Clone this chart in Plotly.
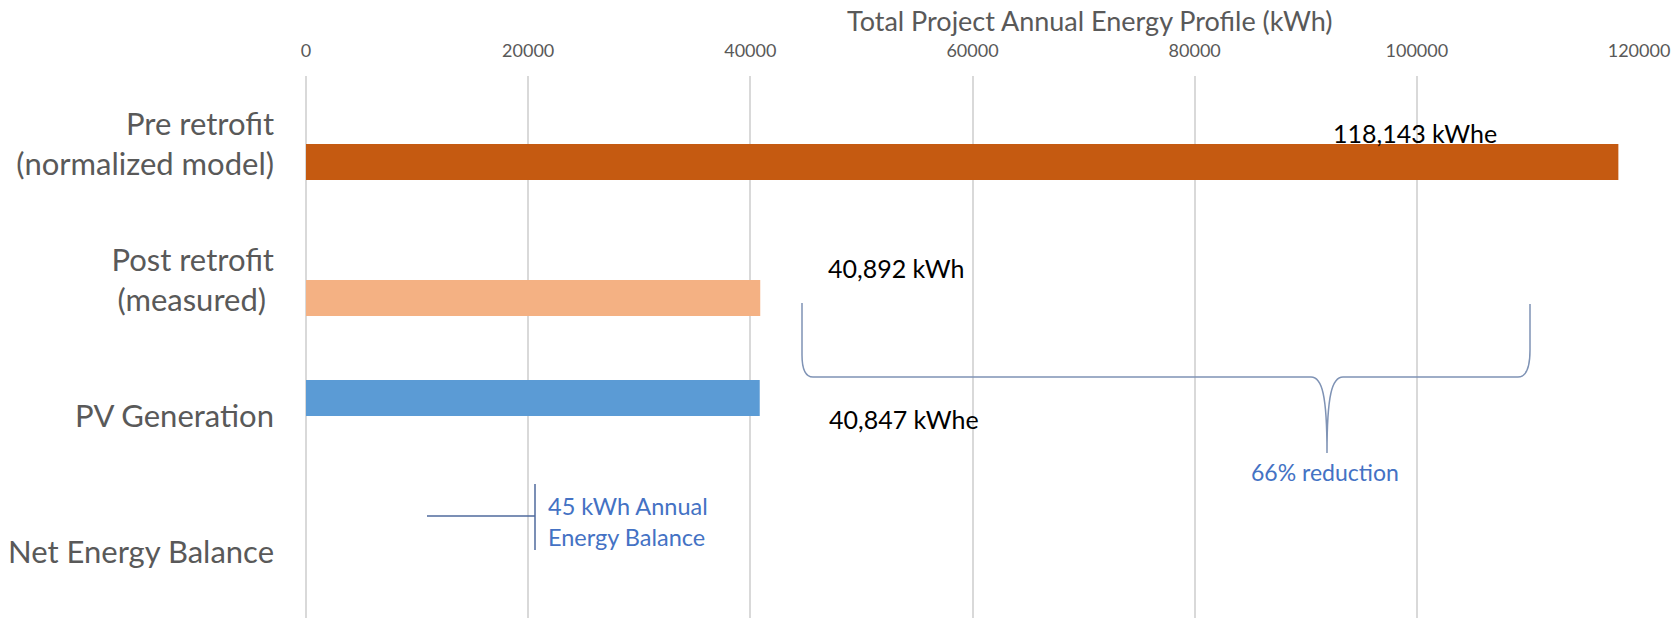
import plotly.graph_objects as go

# ---- data ----
categories = ["Pre retrofit<br>(normalized model)", "Post retrofit<br>(measured) ",
              "PV Generation", "Net Energy Balance"]
consumption = [118143, 40892, None, None]
generation = [None, None, 40847, None]
net_balance = 45
reduction_pct = 66
x_ticks = [0, 20000, 40000, 60000, 80000, 100000, 120000]

consumption_colors = ["#C55A11", "#F4B183", "#C55A11", "#C55A11"]
pv_color = "#5B9BD5"
FONT = "Lato"

W, H = 1679, 618
L, R, T, B = 306, 40, 76, 0
XMAX = 120000


def px2x(px):
    return (px - L) / (W - L - R) * XMAX


def py2p(py):
    return 1 - (py - T) / (H - T - B)


fig = go.Figure()
bw = 0.265
fig.add_trace(go.Bar(y=categories, x=consumption, orientation="h",
                     marker=dict(color=consumption_colors, line=dict(width=0)),
                     width=bw, offset=0.0, showlegend=False, hoverinfo="x+y"))
fig.add_trace(go.Bar(y=categories, x=generation, orientation="h",
                     marker=dict(color=pv_color, line=dict(width=0)),
                     width=bw, offset=-bw, showlegend=False, hoverinfo="x+y"))

ann = []
# axis title (top)
ann.append(dict(text="Total Project Annual Energy Profile (kWh)", xref="paper", yref="paper",
                x=(1090 - L) / (W - L - R), y=py2p(20), xanchor="center", yanchor="middle",
                showarrow=False, font=dict(family=FONT, size=27, color="#595959")))
# data labels
ann.append(dict(text=f"{consumption[0]:,} kWhe", xref="x", yref="paper", x=px2x(1331), y=py2p(133),
                xanchor="left", yanchor="middle", showarrow=False,
                font=dict(family=FONT, size=25, color="#000000")))
ann.append(dict(text=f"{consumption[1]:,} kWh", xref="x", yref="paper", x=px2x(826), y=py2p(268),
                xanchor="left", yanchor="middle", showarrow=False,
                font=dict(family=FONT, size=25, color="#000000")))
ann.append(dict(text=f"{generation[2]:,} kWhe", xref="x", yref="paper", x=px2x(827), y=py2p(419),
                xanchor="left", yanchor="middle", showarrow=False,
                font=dict(family=FONT, size=25, color="#000000")))
# blue notes
ann.append(dict(text=f"{reduction_pct}% reduction", xref="x", yref="paper", x=px2x(1325), y=py2p(472),
                xanchor="center", yanchor="middle", showarrow=False,
                font=dict(family=FONT, size=23, color="#4472C4")))
ann.append(dict(text=f"{net_balance} kWh Annual<br>Energy Balance", xref="x", yref="paper",
                x=px2x(546), y=py2p(521), xanchor="left", yanchor="middle", align="left",
                showarrow=False, font=dict(family=FONT, size=23.5, color="#4472C4")))


def P(px, py):
    return f"{px2x(px)},{py2p(py)}"


brace = ("M " + P(802, 303) + " L " + P(802, 355) + " Q " + P(802, 377) + " " + P(813, 377) +
         " L " + P(1311, 377) + " C " + P(1322, 377) + " " + P(1327, 395) + " " + P(1327, 453) +
         " C " + P(1327, 395) + " " + P(1332, 377) + " " + P(1343, 377) +
         " L " + P(1518, 377) + " Q " + P(1530, 377) + " " + P(1530, 350) + " L " + P(1530, 304))
shapes = [
    dict(type="path", path=brace, xref="x", yref="paper",
         line=dict(color="#7F93B5", width=1.5)),
    dict(type="line", xref="x", yref="paper", x0=px2x(427), x1=px2x(535), y0=py2p(516), y1=py2p(516),
         line=dict(color="#4F6A9C", width=1.5)),
    dict(type="line", xref="x", yref="paper", x0=px2x(535), x1=px2x(535), y0=py2p(484), y1=py2p(550),
         line=dict(color="#4F6A9C", width=1.5)),
]

fig.update_layout(
    width=W, height=H,
    margin=dict(l=L, r=R, t=T, b=B, pad=0),
    paper_bgcolor="white", plot_bgcolor="white",
    barmode="overlay",
    annotations=ann, shapes=shapes,
    xaxis=dict(side="top", range=[0, XMAX], tickvals=x_ticks, ticktext=[str(v) for v in x_ticks],
               showgrid=True, gridcolor="#D9D9D9", gridwidth=2,
               zeroline=True, zerolinecolor="#D9D9D9", zerolinewidth=2,
               showline=False, ticks="", ticklabelstandoff=14,
               tickfont=dict(family=FONT, size=18, color="#595959")),
    yaxis=dict(categoryorder="array", categoryarray=categories, range=[3.485, -0.5],
               showgrid=False, zeroline=False, showline=False, ticks="",
               ticklabelstandoff=31,
               tickfont=dict(family=FONT, size=31, color="#595959")),
)

fig.write_html("out.html", config={"displayModeBar": False},
               post_script="document.body.style.margin='0';document.body.style.overflow='hidden';")
